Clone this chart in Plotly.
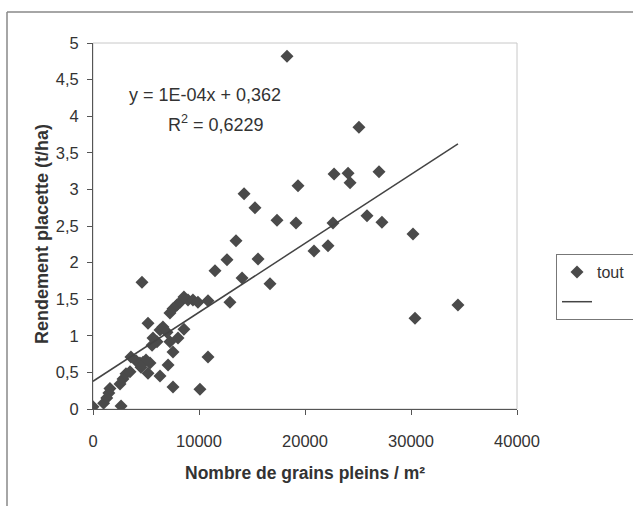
import numpy as np
import plotly.graph_objects as go

# Data
grains = [0, 1000, 1300, 1500, 1600, 2650, 2550, 2830, 3110, 3490, 3580, 4060, 4430, 4720,
          5000, 5380, 4530, 5190, 6320, 7080, 7550, 7550, 5190, 4620, 5660, 6040, 5570,
          6320, 6600, 6980, 7260, 8020, 10090, 10850, 8580, 7260, 7550, 7920, 8210, 8580,
          8960, 9430, 9900, 10850, 11510, 12640, 12920, 13490, 14060, 14250, 15280, 15570,
          16700, 17360, 18300, 19150, 19340, 20850, 22170, 22640, 22740, 24060, 24250,
          25090, 25850, 26980, 27260, 30190, 30380, 34430]
rendement = [0.03, 0.08, 0.15, 0.22, 0.28, 0.04, 0.34, 0.41, 0.48, 0.51, 0.71, 0.66, 0.63, 0.64,
             0.67, 0.63, 0.57, 0.49, 0.45, 0.60, 0.78, 0.30, 1.17, 1.73, 0.97, 0.92, 0.87,
             1.08, 1.12, 1.05, 0.92, 0.97, 0.27, 0.71, 1.09, 1.31, 1.37, 1.42, 1.46, 1.53,
             1.49, 1.49, 1.46, 1.48, 1.89, 2.04, 1.46, 2.30, 1.79, 2.94, 2.75, 2.05,
             1.71, 2.58, 4.82, 2.54, 3.05, 2.16, 2.23, 2.54, 3.21, 3.22, 3.09,
             3.85, 2.64, 3.24, 2.55, 2.39, 1.24, 1.42]

x_tickvals = [0, 10000, 20000, 30000, 40000]
x_ticktext = ["0", "10000", "20000", "30000", "40000"]
y_tickvals = [0, 0.5, 1, 1.5, 2, 2.5, 3, 3.5, 4, 4.5, 5]
y_ticktext = ["0", "0,5", "1", "1,5", "2", "2,5", "3", "3,5", "4", "4,5", "5"]

equation_text = "y = 1E-04x + 0,362"
r2_text = "R<sup>2</sup> = 0,6229"

# Linear trend line (least squares)
slope, intercept = np.polyfit(grains, rendement, 1)
x_line = np.array([min(grains), max(grains)])
y_line = slope * x_line + intercept

FONT = "Liberation Sans, Arial, sans-serif"
TXT = "#333333"
W, H = 633, 506
L, R, T, B = 93, 116, 43, 97
PW, PH = W - L - R, H - T - B


def px(xp):
    return (xp - L) / PW


def py(yp):
    return (H - B - yp) / PH


fig = go.Figure()
fig.add_trace(go.Scatter(
    x=grains, y=rendement, mode="markers", name="tout", legendgroup="a",
    marker=dict(symbol="diamond", size=10, color="#4a4a4a", line=dict(width=0)),
))
fig.add_trace(go.Scatter(
    x=x_line, y=y_line, mode="lines", name="       ", legendgroup="b",
    line=dict(color="#444444", width=1.5),
))

fig.update_layout(
    width=W, height=H,
    margin=dict(l=L, r=R, t=T, b=B, autoexpand=False),
    paper_bgcolor="white", plot_bgcolor="white",
    font=dict(family=FONT, color=TXT, size=16),
    showlegend=True,
    legend=dict(xref="container", yref="container",
                x=556 / W, y=1 - 254 / H, xanchor="left", yanchor="top",
                bordercolor="#777777", borderwidth=1, bgcolor="white",
                font=dict(size=16, color=TXT), tracegroupgap=6,
                itemwidth=30),
    xaxis=dict(range=[0, 40000], tickvals=x_tickvals, ticktext=x_ticktext,
               showgrid=False, zeroline=False, showline=True, linecolor="#555555",
               linewidth=1, ticks="outside", ticklen=5, tickcolor="#555555",
               ticklabelstandoff=12,
               tickfont=dict(size=16.5, color=TXT)),
    yaxis=dict(range=[0, 5], tickvals=y_tickvals, ticktext=y_ticktext,
               showgrid=False, zeroline=False, showline=True, linecolor="#555555",
               linewidth=1, ticks="outside", ticklen=5, tickcolor="#555555",
               ticklabelstandoff=5,
               tickfont=dict(size=16.5, color=TXT)),
    shapes=[
        # plot area frame (light)
        dict(type="rect", xref="paper", yref="paper", x0=0, y0=0, x1=1, y1=1,
             line=dict(color="#c8c8c8", width=1), layer="below"),
        # outer chart border: left and top edges only (rest is outside the picture)
        dict(type="line", xref="paper", yref="paper", x0=px(7), x1=px(7),
             y0=py(520), y1=py(12), line=dict(color="#888888", width=1.5), layer="below"),
        dict(type="line", xref="paper", yref="paper", x0=px(7), x1=px(650),
             y0=py(12), y1=py(12), line=dict(color="#888888", width=1.5), layer="below"),
    ],
    annotations=[
        dict(text="<b>Rendement placette (t/ha)</b>", xref="paper", yref="paper",
             x=px(42), y=py(234), xanchor="center", yanchor="middle", textangle=-90,
             showarrow=False, font=dict(size=18, color=TXT)),
        dict(text="<b>Nombre de grains pleins / m²</b>", xref="paper", yref="paper",
             x=px(305), y=py(473), xanchor="center", yanchor="middle",
             showarrow=False, font=dict(size=17.5, color=TXT)),
        dict(text=equation_text, xref="paper", yref="paper",
             x=px(205), y=py(95), xanchor="center", yanchor="middle",
             showarrow=False, font=dict(size=18, color=TXT)),
        dict(text=r2_text, xref="paper", yref="paper",
             x=px(216), y=py(123), xanchor="center", yanchor="middle",
             showarrow=False, font=dict(size=18, color=TXT)),
    ],
)

fig.write_html("out.html")
